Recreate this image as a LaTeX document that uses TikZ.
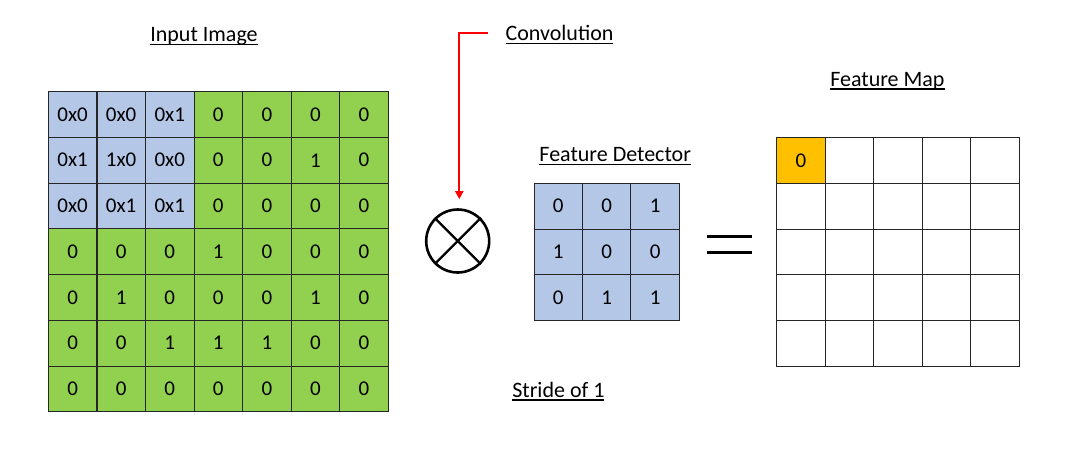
\documentclass[tikz,border=0pt]{standalone}
\usepackage{fontspec}
\setmainfont{Carlito}
\usetikzlibrary{arrows.meta}
\definecolor{cellblue}{RGB}{180,199,231}
\definecolor{cellgreen}{RGB}{146,208,80}
\definecolor{cellorange}{RGB}{255,192,0}
\newcommand{\myul}[1]{\leavevmode\setbox0\hbox{#1}\rlap{\rule[-3.6pt]{\wd0}{1.6pt}}\box0}
\begin{document}
\begin{tikzpicture}[x=1pt,y=-1pt,
  cell/.style={draw=black!85,line width=0.8pt,inner sep=0pt,outer sep=0pt,
    minimum width=48.5pt,minimum height=45.7pt,font=\fontsize{21}{24}\selectfont},
  title/.style={anchor=base,inner sep=0pt,font=\fontsize{22}{26}\selectfont},
  bluecell/.style={cell,fill=cellblue},
  greencell/.style={cell,fill=cellgreen},
  whitecell/.style={cell,fill=white}]
\useasboundingbox (0,0) rectangle (1068,458);
\fill[white] (0,0) rectangle (1068,458);
% input image
\foreach \row [count=\i] in {
  {0x0,0x0,0x1,0,0,0,0},
  {0x1,1x0,0x0,0,0,1,0},
  {0x0,0x1,0x1,0,0,0,0},
  {0,0,0,1,0,0,0},
  {0,1,0,0,0,1,0},
  {0,0,1,1,1,0,0},
  {0,0,0,0,0,0,0}}{
  \foreach \v [count=\j] in \row {
    \pgfmathsetmacro{\isblue}{(\i<4)&&(\j<4)?1:0}
    \ifnum\isblue=1
      \node[bluecell] (in-\i-\j) at ({48.3+(\j-0.5)*48.57},{91.7+(\i-0.5)*45.7}) {\v};
    \else
      \node[greencell] (in-\i-\j) at ({48.3+(\j-0.5)*48.57},{91.7+(\i-0.5)*45.7}) {\v};
    \fi
  }
}
% feature detector
\foreach \row [count=\i] in {{0,0,1},{1,0,0},{0,1,1}}{
  \foreach \v [count=\j] in \row {
    \node[bluecell,minimum width=48.4pt,minimum height=45.6pt] (fd-\i-\j) at ({534+(\j-0.5)*48.43},{183.3+(\i-0.5)*45.6}) {\v};
  }
}
% feature map
\foreach \i in {1,...,5}{
  \foreach \j in {1,...,5}{
    \node[whitecell] (fm-\i-\j) at ({776.7+(\j-0.5)*48.5},{137.7+(\i-0.5)*45.7}) {};
  }
}
\node[cell,fill=cellorange] (fm-1-1) at ({776.7+0.5*48.5},{137.7+0.5*45.7}) {0};
% titles
\node[title] (tin) at (204,41.7) {\myul{Input Image}};
\node[title] (tconv) at (559.5,40.7) {\myul{Convolution}};
\node[title] (tfd) at (615.2,161.7) {\myul{Feature Detector}};
\node[title] (tfm) at (887.4,86) {\myul{Feature Map}};
\node[title] (tstride) at (558.4,397) {\myul{Stride of 1}};
% convolution operator
\node[circle,draw=black,line width=2.6pt,minimum size=63pt,inner sep=0pt] (conv) at (457.7,241) {};
\draw[line width=2.4pt] (conv.45) -- (conv.225);
\draw[line width=2.4pt] (conv.135) -- (conv.315);
\coordinate (cbend) at (459.3,33.3);
\coordinate (cstart) at (488,33.3);
\draw[red,line width=2pt,shorten >=9pt,-{Triangle[width=8pt,length=8pt]}] (cstart) -- (cbend) -- (cbend |- conv.north);
% equals sign
\draw[line width=2.8pt] (706.7,236.7) -- (751.7,236.7);
\draw[line width=2.8pt] (706.7,252.3) -- (751.7,252.3);
\end{tikzpicture}
\end{document}
